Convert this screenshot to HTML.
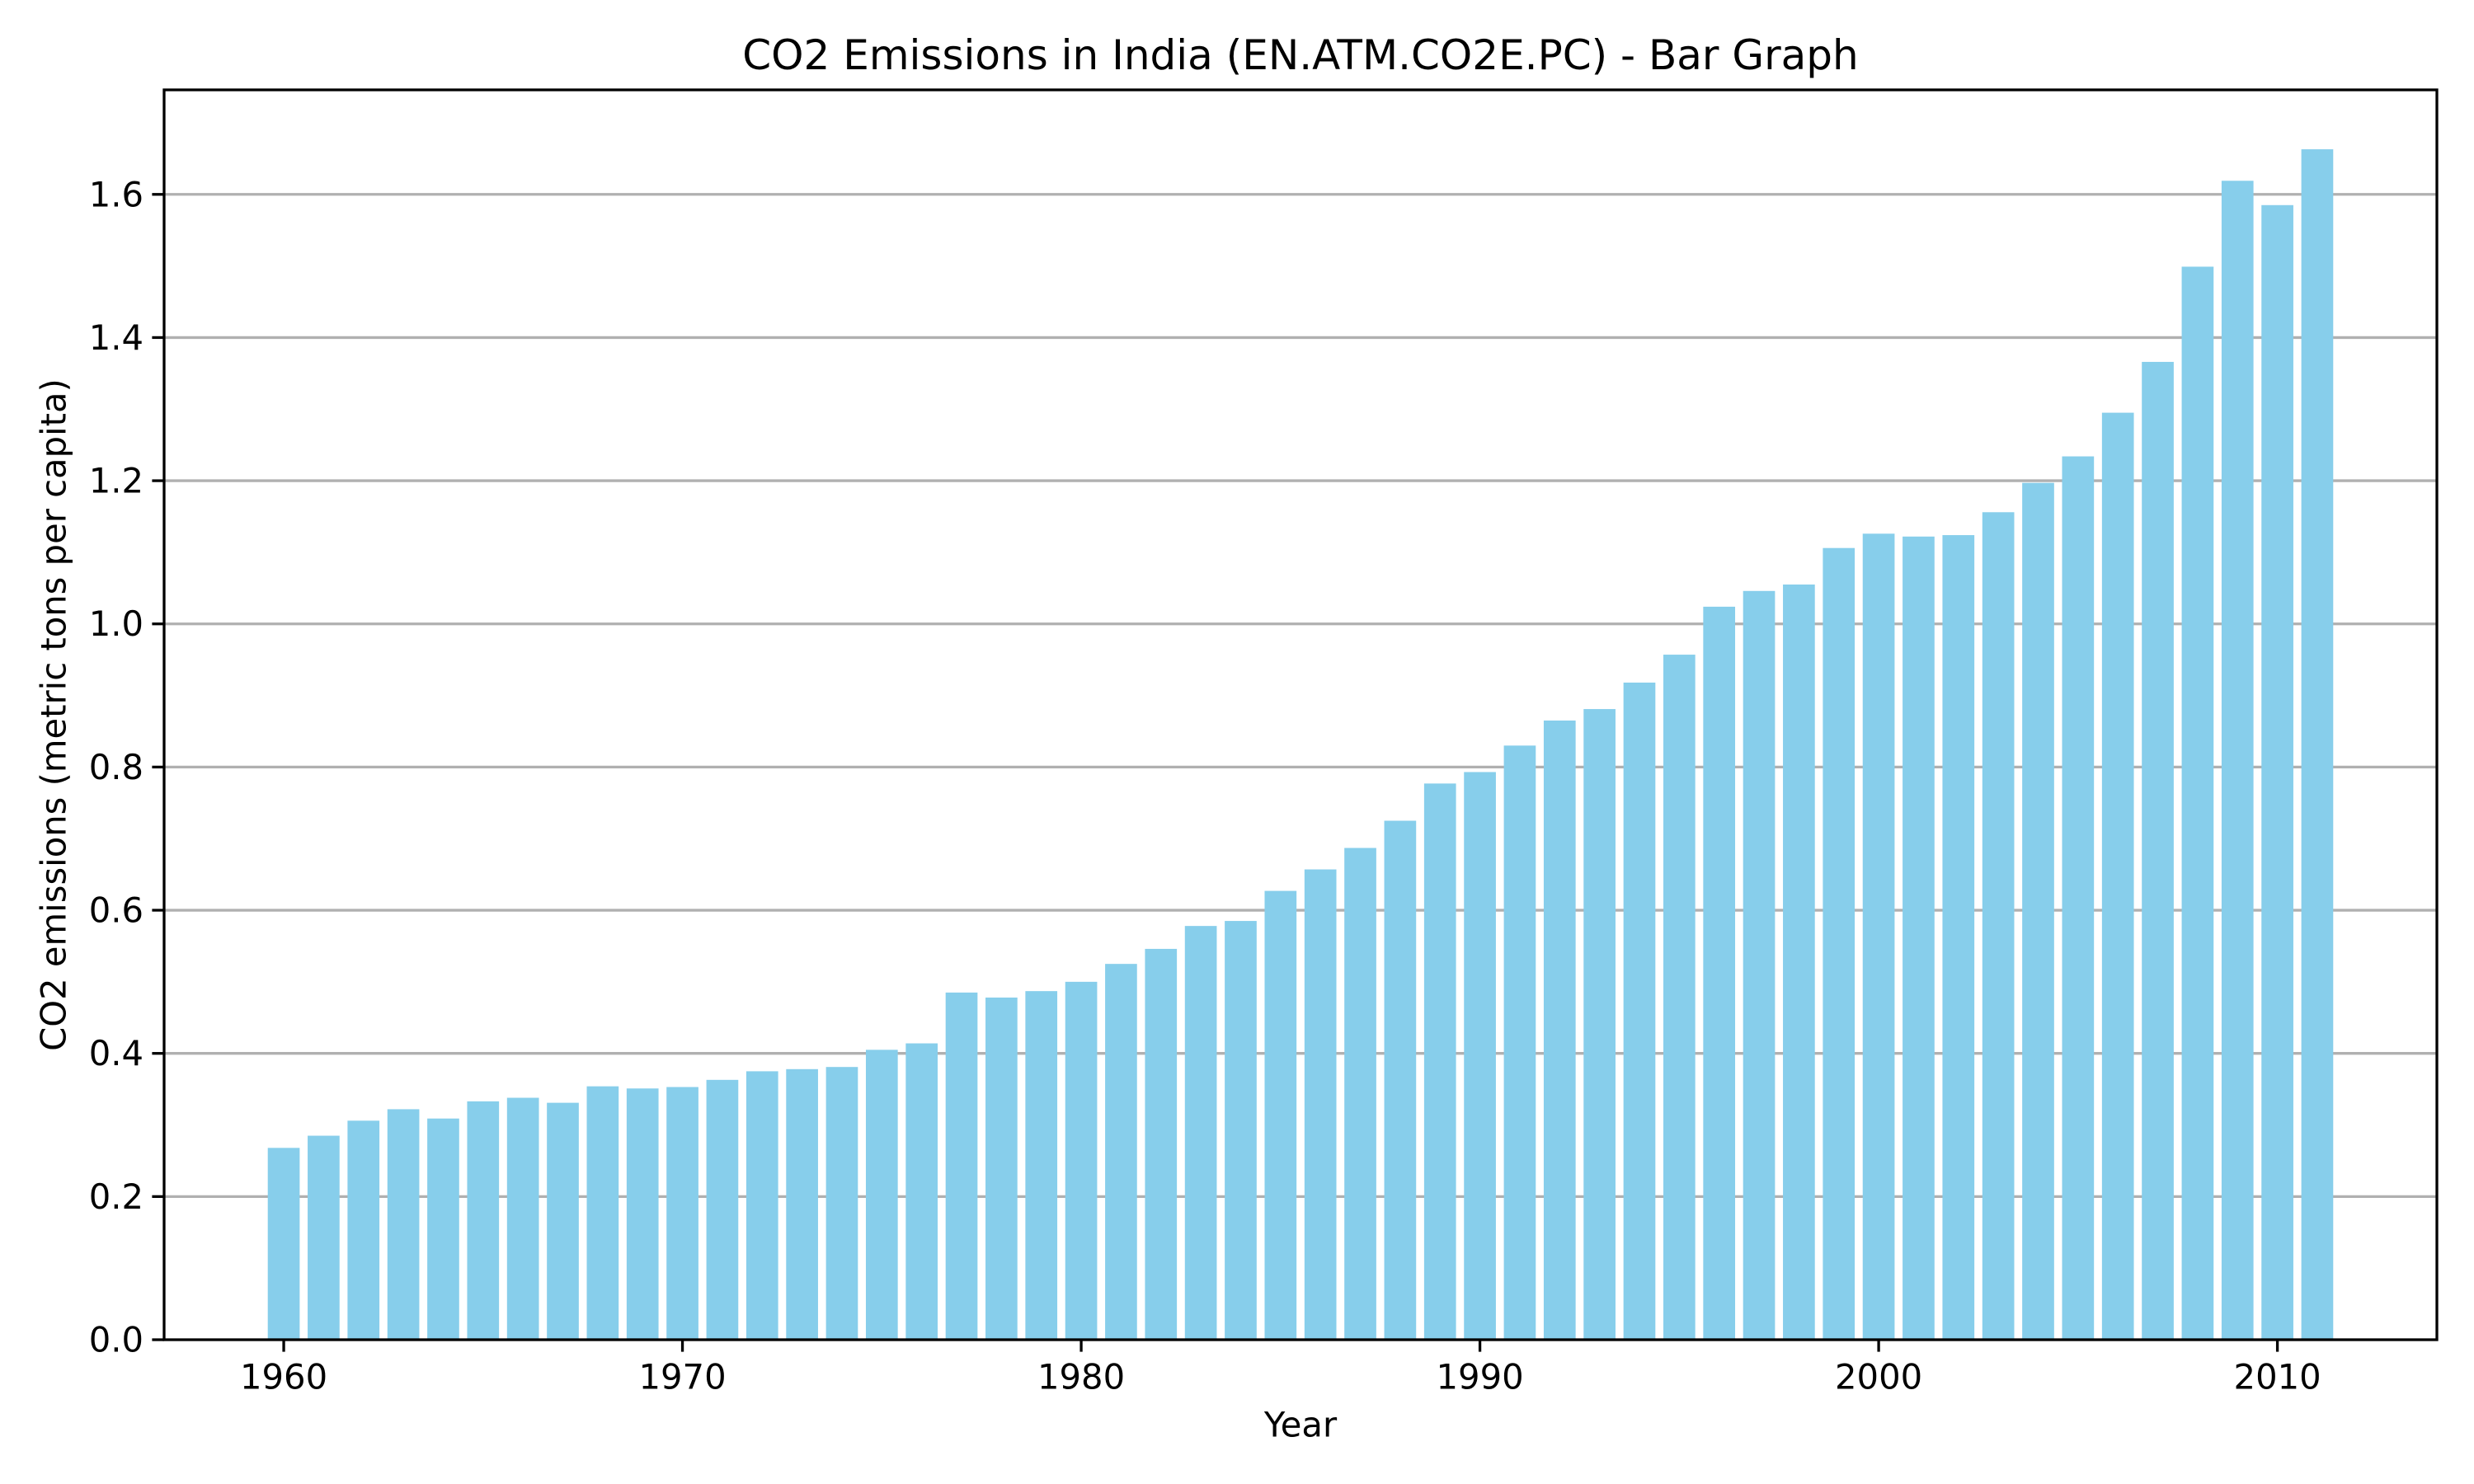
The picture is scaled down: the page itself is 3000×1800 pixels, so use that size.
<!DOCTYPE html>
<html><head><meta charset="utf-8"><style>html,body{margin:0;padding:0;background:#fff}svg{display:block}text{font-family:"DejaVu Sans","Liberation Sans",sans-serif;fill:#000}</style></head>
<body>
<svg id="chart" width="3000" height="1800" viewBox="0 0 3000 1800" xmlns="http://www.w3.org/2000/svg">
<rect width="3000" height="1800" fill="#fff"/>
<text x="1577" y="67" font-size="50" text-anchor="middle" dominant-baseline="central">CO2 Emissions in India (EN.ATM.CO2E.PC) - Bar Graph</text>
<text x="1577" y="1728" font-size="41.7" text-anchor="middle" dominant-baseline="central">Year</text>
<text x="0" y="0" font-size="41.7" text-anchor="middle" dominant-baseline="central" transform="translate(65,867) rotate(-90)">CO2 emissions (metric tons per capita)</text>
<g id="grid"></g><g id="bars"></g><g id="axes"></g>
</svg>
<script>
const years = [];
for (let y = 1960; y <= 2011; y++) years.push(y);
const values = [0.268,0.285,0.306,0.322,0.309,0.333,0.338,0.331,0.354,0.351,0.353,0.363,0.375,0.378,0.381,0.405,0.414,0.485,0.478,0.487,0.500,0.525,0.546,0.578,0.585,0.627,0.657,0.687,0.725,0.777,0.793,0.830,0.865,0.881,0.918,0.957,1.024,1.046,1.055,1.106,1.126,1.122,1.124,1.156,1.197,1.234,1.295,1.366,1.499,1.619,1.585,1.663];
const yTicks = [0,0.2,0.4,0.6,0.8,1.0,1.2,1.4,1.6];
const yTickLabels = ["0.0","0.2","0.4","0.6","0.8","1.0","1.2","1.4","1.6"];
const xTicks = [1960,1970,1980,1990,2000,2010];
const xTickLabels = ["1960","1970","1980","1990","2000","2010"];

const L=199,R=2955,T=109,B=1625;
const xMin=1957.0,xMax=2014.0,yMin=0,yMax=1.746;
const xs=v=>L+(v-xMin)/(xMax-xMin)*(R-L);
const ys=v=>B-(v-yMin)/(yMax-yMin)*(B-T);
const NS="http://www.w3.org/2000/svg";
function mk(tag,attrs,parent){const e=document.createElementNS(NS,tag);for(const k in attrs)e.setAttribute(k,attrs[k]);parent.appendChild(e);return e;}
const grid=document.getElementById('grid'),bars=document.getElementById('bars'),axes=document.getElementById('axes');
yTicks.forEach((t,i)=>{
  if(t>0){const g=mk('line',{x1:L,x2:R,y1:ys(t),y2:ys(t),stroke:'#b0b0b0','stroke-width':3.3},grid);
  
  }
  const tk=mk('line',{x1:L-14.6,x2:L,y1:ys(t),y2:ys(t),stroke:'#000','stroke-width':3.3},axes);
  
  
  const tx=mk('text',{x:L-25,y:ys(t),'font-size':41.7,'text-anchor':'end','dominant-baseline':'central'},axes);
  tx.textContent=yTickLabels[i];
  
  
});
const bw=(xs(1)-xs(0))*0.8;
years.forEach((yr,i)=>{
  const r=mk('rect',{x:xs(yr)-bw/2,y:ys(values[i]),width:bw,height:ys(0)-ys(values[i]),fill:'#87ceeb'},bars);
  
  
});
xTicks.forEach((t,i)=>{
  const tk=mk('line',{x1:xs(t),x2:xs(t),y1:B,y2:B+14.6,stroke:'#000','stroke-width':3.3},axes);
  
  
  const tx=mk('text',{x:xs(t),y:1670,'font-size':41.7,'text-anchor':'middle','dominant-baseline':'central'},axes);
  tx.textContent=xTickLabels[i];
  
  
});
const fr=mk('rect',{x:L,y:T,width:R-L,height:B-T,fill:'none',stroke:'#000','stroke-width':3.3},axes);


</script>
</body></html>
